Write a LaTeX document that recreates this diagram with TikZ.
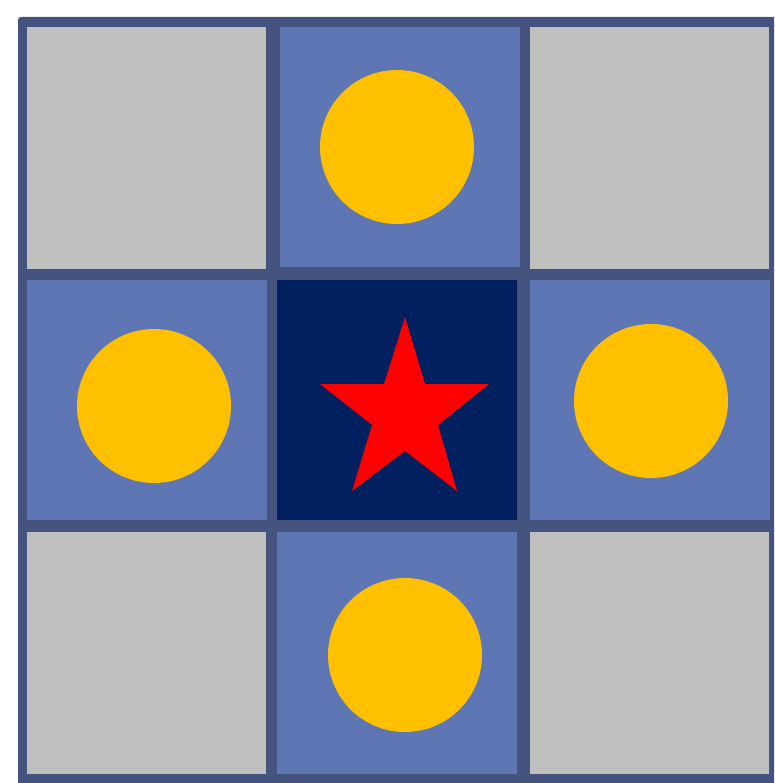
\documentclass[tikz,border=0pt]{standalone}
\usepackage{xcolor}
\usepackage{tikz}
\definecolor{gridc}{HTML}{44547F}
\definecolor{cellg}{HTML}{BFBFBF}
\definecolor{cellb}{HTML}{5F76B4}
\definecolor{celld}{HTML}{002060}
\definecolor{dotc}{HTML}{FFC000}
\definecolor{starc}{HTML}{FF0000}
\tikzset{
  gcell/.style={fill=cellg},
  bcell/.style={fill=cellb},
  dcell/.style={fill=celld},
  dot/.style={fill=dotc}
}
\begin{document}
\begin{tikzpicture}[x=1pt,y=-1pt]
\useasboundingbox (0,0) rectangle (774,783);
\clip (0,0) rectangle (774,783);
\fill[gridc,rounded corners=3pt] (18,17) rectangle (790,795);
% corner cells
\foreach \x/\y in {27/27,530/27,27/532,530/532}
  \fill[gcell] (\x,\y) rectangle +(239,242);
% side cells
\fill[bcell] (280,27) rectangle (520,267);
\fill[bcell] (27,280) rectangle (267,520);
\fill[bcell] (530,280) rectangle (770,520);
\fill[bcell] (277,532) rectangle (517,774);
% centre
\fill[dcell] (277,280) rectangle (517,520);
\fill[dot] (397,147) circle (77);
\fill[dot] (154,406) circle (77);
\fill[dot] (651,401) circle (77);
\fill[dot] (405,655) circle (77);
\fill[starc] (405,317)--(425,384)--(489,384)--(438,425)--(457,491)--(405,451)
  --(352,491)--(372,425)--(320,384)--(384,384)--cycle;
\end{tikzpicture}
\end{document}
